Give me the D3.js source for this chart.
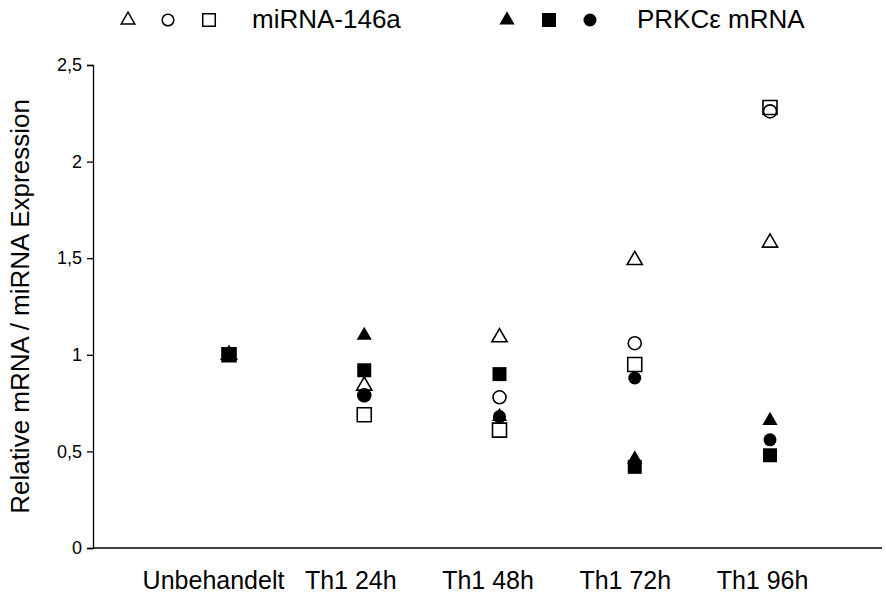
<!DOCTYPE html>
<html><head><meta charset="utf-8">
<script src="https://cdn.jsdelivr.net/npm/d3@7/dist/d3.min.js"></script>
<style>body{margin:0;background:#fff}svg{display:block;font-family:"Liberation Sans",Arial,sans-serif}</style>
</head><body><svg id="c" width="886" height="596"></svg>
<script>
const categories = ["Unbehandelt","Th1 24h","Th1 48h","Th1 72h","Th1 96h"];
const yTicks = [0,0.5,1,1.5,2,2.5];
// miRNA-146a (open markers)
const miRNA_triangle = [1.0, 0.84, 1.09, 1.49, 1.58];
const miRNA_circle   = [1.0, 0.79, 0.78, 1.06, 2.26];
const miRNA_square   = [1.0, 0.69, 0.61, 0.95, 2.28];
// PRKCε mRNA (filled markers)
const prkc_triangle  = [1.0, 1.10, 0.68, 0.46, 0.66];
const prkc_square    = [1.0, 0.92, 0.90, 0.42, 0.48];
const prkc_circle    = [1.0, 0.79, 0.68, 0.88, 0.56];

const series = [
  {values: miRNA_triangle, shape: "triangle", filled: false},
  {values: miRNA_circle,   shape: "circle",   filled: false},
  {values: miRNA_square,   shape: "square",   filled: false},
  {values: prkc_triangle,  shape: "triangle", filled: true},
  {values: prkc_circle,    shape: "circle",   filled: true},
  {values: prkc_square,    shape: "square",   filled: true}
];

const svg = d3.select("#c");
const x = d3.scalePoint().domain(categories).range([229, 770]);
const xLab = d3.scalePoint().domain(categories).range([213, 762]);
const y = d3.scaleLinear().domain([0, 2.5]).range([548, 65]);
const loc = d3.formatLocale({decimal: ",", thousands: ".", grouping: [3], currency: ["", "€"]});
const fmt = loc.format("~g");
const FONT = "Liberation Sans, Arial, sans-serif";

const symType = {triangle: d3.symbolTriangle, circle: d3.symbolCircle, square: d3.symbolSquare};
const symSize = {triangle: 100, circle: 133, square: 196};
const sym = (s, k) => d3.symbol().type(symType[s]).size(symSize[s] * (k || 1))();

// Y axis
const yAxis = svg.append("g").attr("transform", "translate(93,0)")
  .call(d3.axisLeft(y).tickValues(yTicks).tickFormat(fmt).tickSize(6).tickPadding(5));
yAxis.select(".domain").attr("stroke", "#000").attr("stroke-width", 1.3);
yAxis.selectAll(".tick line").attr("stroke", "#000").attr("stroke-width", 1.3);
yAxis.selectAll(".tick text").attr("font-size", 18).attr("fill", "#000").attr("font-family", FONT);

// X axis
const xAxis = svg.append("g").attr("transform", "translate(0,548)")
  .call(d3.axisBottom(xLab).tickSize(0).tickPadding(23));
xAxis.select(".domain").remove();
xAxis.selectAll(".tick text").attr("font-size", 25).attr("fill", "#000").attr("font-family", FONT);
svg.append("line").attr("x1", 93).attr("x2", 882).attr("y1", y(0)).attr("y2", y(0))
  .attr("stroke", "#000").attr("stroke-width", 1.5);

// Y title
svg.append("text").attr("transform", `translate(29,${(y(0)+y(2.5))/2}) rotate(-90)`)
  .attr("text-anchor", "middle").attr("font-size", 26).attr("fill", "#000").attr("font-family", FONT)
  .text("Relative mRNA / miRNA Expression");

// Points
series.forEach(s => {
  svg.append("g").selectAll("path").data(s.values.map((v, i) => ({v, c: categories[i]})))
    .join("path")
    .attr("d", sym(s.shape))
    .attr("transform", d => `translate(${x(d.c)},${y(d.v)})`)
    .attr("fill", s.filled ? "#000" : "none")
    .attr("stroke", s.filled ? "none" : "#000")
    .attr("stroke-width", 1.6);
});

// Legend
const legOpen = [{shape: "triangle", x: 128}, {shape: "circle", x: 168}, {shape: "square", x: 209}];
const legFilled = [{shape: "triangle", x: 507}, {shape: "square", x: 549}, {shape: "circle", x: 590}];
const ly = 20;
legOpen.forEach(d => svg.append("path").attr("d", sym(d.shape, 0.8))
  .attr("transform", `translate(${d.x},${ly})`).attr("fill", "none").attr("stroke", "#000").attr("stroke-width", 1.5));
legFilled.forEach(d => svg.append("path").attr("d", sym(d.shape, 1.0))
  .attr("transform", `translate(${d.x},${ly})`).attr("fill", "#000"));
svg.append("text").attr("x", 252).attr("y", 28).attr("font-size", 26).attr("fill", "#000").attr("font-family", FONT).text("miRNA-146a");
svg.append("text").attr("x", 637).attr("y", 28).attr("font-size", 26).attr("fill", "#000").attr("font-family", FONT).text("PRKCε mRNA");
</script></body></html>
